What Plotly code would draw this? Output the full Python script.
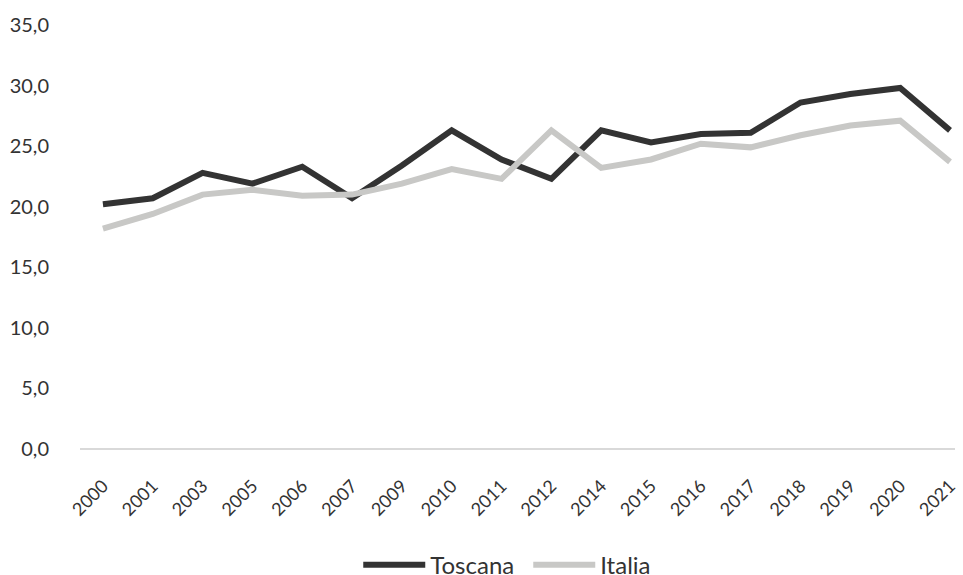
import plotly.graph_objects as go

years = ["2000", "2001", "2003", "2005", "2006", "2007", "2009", "2010", "2011",
         "2012", "2014", "2015", "2016", "2017", "2018", "2019", "2020", "2021"]
toscana = [20.2, 20.7, 22.8, 21.9, 23.3, 20.7, 23.4, 26.3, 23.9,
           22.3, 26.3, 25.3, 26.0, 26.1, 28.6, 29.3, 29.8, 26.3]
italia = [18.2, 19.4, 21.0, 21.4, 20.9, 21.0, 21.9, 23.1, 22.3,
          26.3, 23.2, 23.9, 25.2, 24.9, 25.9, 26.7, 27.1, 23.7]
y_ticks = [0, 5, 10, 15, 20, 25, 30, 35]

FONT = "Lato, 'Open Sans', sans-serif"
TXT = "#333333"

fig = go.Figure()
fig.add_trace(go.Scatter(x=list(range(len(years))), y=toscana, name="Toscana", mode="lines",
                         line=dict(color="#333333", width=6)))
fig.add_trace(go.Scatter(x=list(range(len(years))), y=italia, name="Italia", mode="lines",
                         line=dict(color="#c8c8c6", width=6)))

fig.update_layout(
    width=963, height=575,
    margin=dict(l=80, r=8, t=25, b=126, autoexpand=False),
    paper_bgcolor="white", plot_bgcolor="white",
    separators=",.",
    font=dict(family=FONT, size=18, color=TXT),
    showlegend=True,
    legend=dict(orientation="h", x=0.318, xanchor="left", y=-0.274, yanchor="middle",
                font=dict(size=24, color=TXT), itemwidth=62, entrywidth=93,
                entrywidthmode="pixels", tracegroupgap=0),
    xaxis=dict(
        tickmode="array", tickvals=list(range(len(years))), ticktext=years,
        range=[-0.46, 17.1], tickangle=-45, showgrid=False, zeroline=False,
        showline=False, ticks="", tickfont=dict(size=18, color=TXT), automargin=False,
        ticklabelstandoff=22,
    ),
    yaxis=dict(
        range=[0, 35], tickvals=y_ticks, tickformat=".1f", showgrid=False,
        zeroline=True, zerolinecolor="#d9d9d9", zerolinewidth=2,
        showline=False, ticks="", tickfont=dict(size=20, color=TXT),
        ticklabelstandoff=30, automargin=False,
    ),
)

fig.write_html("out.html", config={"displayModeBar": False},
               post_script="document.body.style.margin='0';")
